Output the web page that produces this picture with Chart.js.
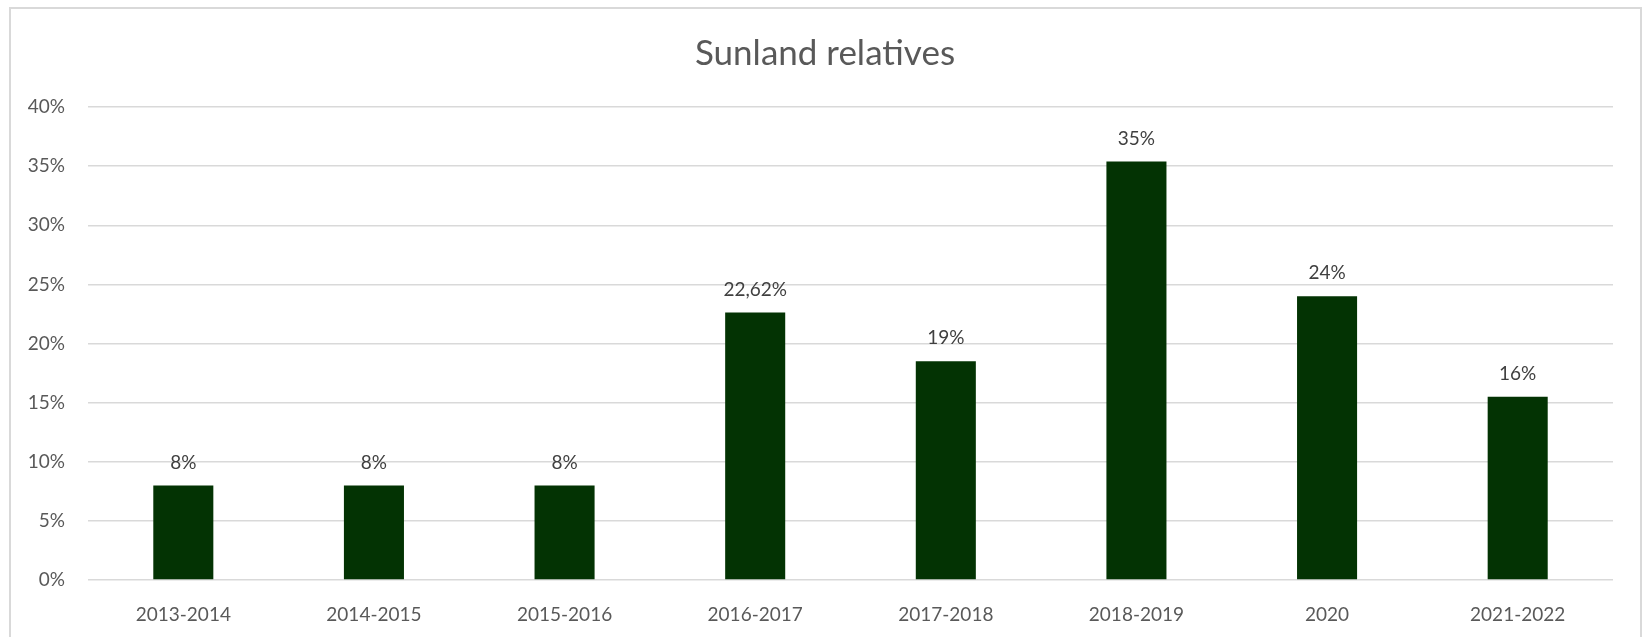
<!DOCTYPE html>
<html lang="en">
<head>
    <meta charset="UTF-8">
    <title>Sunland relatives</title>
    <script src="https://cdn.jsdelivr.net/npm/chart.js"></script>
    <style>
        body {
            margin: 0;
            background-color: white;
        }
        .wrap {
            position: relative;
            width: 1644px;
            height: 637px;
            overflow: hidden;
        }
        .frame {
            position: absolute;
            left: 9px;
            top: 7px;
            width: 1629px;
            height: 700px;
            border: 2px solid #d9d9d9;
            pointer-events: none;
        }
    </style>
</head>
<body>
    <div class="wrap">
        <canvas id="myChart" width="1644" height="637"></canvas>
        <div class="frame"></div>
    </div>

    <script>
        // Data
        const chartTitle = 'Sunland relatives';
        const categories = ['2013-2014', '2014-2015', '2015-2016', '2016-2017', '2017-2018', '2018-2019', '2020', '2021-2022'];
        const values = [8, 8, 8, 22.62, 18.5, 35.4, 24, 15.5];
        const valueLabels = ['8%', '8%', '8%', '22,62%', '19%', '35%', '24%', '16%'];
        const yTicks = [0, 5, 10, 15, 20, 25, 30, 35, 40];

        const fontFamily = "Lato, 'Open Sans', sans-serif";

        // titel + labels boven de balken
        const extrasPlugin = {
            id: 'extras',
            afterDatasetsDraw(chart) {
                const ctx = chart.ctx;
                ctx.save();
                ctx.fillStyle = '#404040';
                ctx.font = '19px ' + fontFamily;
                ctx.textAlign = 'center';
                ctx.textBaseline = 'middle';
                chart.getDatasetMeta(0).data.forEach(function(bar, i) {
                    ctx.fillText(valueLabels[i], bar.x, bar.y - 23);
                });
                ctx.fillStyle = '#595959';
                ctx.font = '35px ' + fontFamily;
                ctx.fillText(chartTitle, 825, 54);
                ctx.restore();
            }
        };

        const config = {
            type: 'bar',
            data: {
                labels: categories,
                datasets: [{
                    data: values,
                    backgroundColor: '#033303',
                    barPercentage: 0.315,
                    categoryPercentage: 1
                }]
            },
            options: {
                responsive: false,
                animation: false,
                layout: {
                    padding: { top: 107, right: 31, left: 0, bottom: 0 }
                },
                scales: {
                    x: {
                        grid: { display: false, drawTicks: false },
                        border: { display: false },
                        ticks: {
                            color: '#595959',
                            font: { family: fontFamily, size: 19 },
                            padding: 23,
                            maxRotation: 0
                        },
                        afterFit: function(scale) { scale.height = 57; }
                    },
                    y: {
                        min: 0,
                        max: 40,
                        afterBuildTicks: function(scale) {
                            scale.ticks = yTicks.map(function(v) { return { value: v }; });
                        },
                        grid: { color: '#d9d9d9', lineWidth: 1.5, drawTicks: false },
                        border: { display: false },
                        ticks: {
                            color: '#595959',
                            font: { family: fontFamily, size: 19 },
                            padding: 23,
                            callback: function(v) { return v + '%'; }
                        },
                        afterFit: function(scale) { scale.width = 88; }
                    }
                },
                plugins: {
                    legend: { display: false },
                    tooltip: { enabled: false }
                }
            },
            plugins: [extrasPlugin]
        };

        const ctx = document.getElementById('myChart').getContext('2d');
        const myChart = new Chart(ctx, config);
    </script>
</body>
</html>
